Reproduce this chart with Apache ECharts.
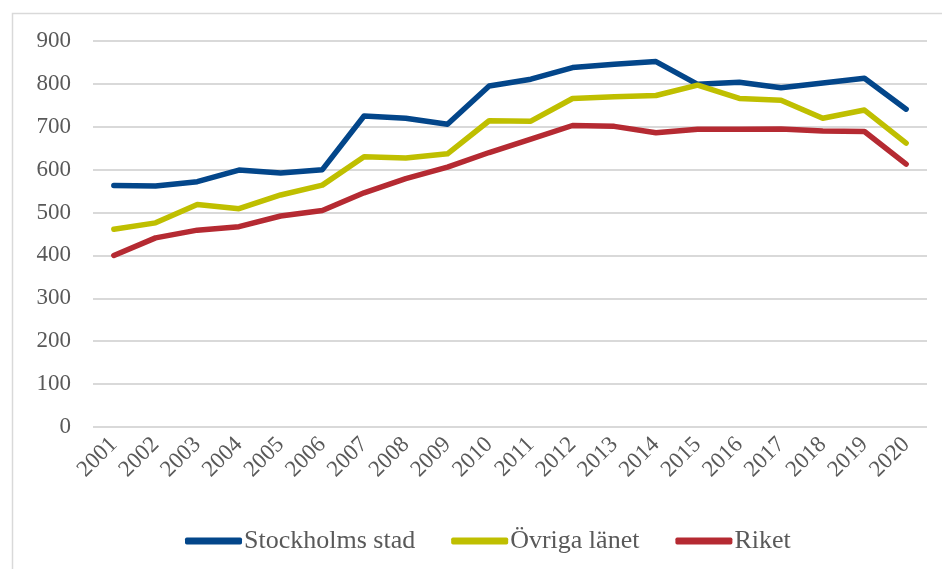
<!DOCTYPE html>
<html>
<head>
<meta charset="utf-8">
<script src="https://cdn.jsdelivr.net/npm/echarts@6/dist/echarts.min.js"></script>
<style>
  html, body { margin: 0; padding: 0; background: #fff; }
  #chart { width: 942px; height: 569px; }
</style>
</head>
<body>
<div id="chart"></div>
<script>
// Years on the category axis
var years = ['2001','2002','2003','2004','2005','2006','2007','2008','2009','2010',
             '2011','2012','2013','2014','2015','2016','2017','2018','2019','2020'];

// Series values per year
var stockholmsStad = [563, 562, 572, 599, 592, 600, 725, 720, 706, 795,
                      811, 838, 846, 852, 799, 804, 791, 802, 813, 741];
var ovrigaLanet    = [461, 476, 519, 509, 541, 564, 630, 627, 637, 714,
                      713, 766, 770, 773, 797, 766, 762, 720, 739, 662];
var riket          = [400, 441, 459, 467, 492, 505, 546, 579, 606, 640,
                      671, 703, 701, 686, 694, 694, 695, 690, 689, 613];

var seriesNames = ['Stockholms stad', '\u00d6vriga l\u00e4net', 'Riket'];
var seriesColors = ['#03468a', '#bfbf00', '#b52a32'];

var chart = echarts.init(document.getElementById('chart'), null, { renderer: 'canvas' });

function lineSeries(name, data, color) {
  return {
    name: name,
    type: 'line',
    data: data,
    symbol: 'none',
    smooth: false,
    lineStyle: { width: 5.5, color: color, cap: 'round', join: 'round' },
    itemStyle: { color: color }
  };
}

var labelFont = 'Liberation Serif';

chart.setOption({
  animation: false,
  backgroundColor: '#ffffff',
  textStyle: { fontFamily: labelFont },
  graphic: [{
    type: 'rect',
    left: 10, top: 11,
    shape: { width: 960, height: 600 },
    style: { fill: 'none', stroke: '#d9d9d9', lineWidth: 1.5 },
    silent: true
  }],
  grid: { left: 93, right: 15, top: 41, bottom: 142, containLabel: false },
  legend: {
    left: 180,
    top: 523,
    itemWidth: 57,
    itemHeight: 7,
    itemGap: 36,
    icon: 'roundRect',
    textStyle: { fontFamily: labelFont, fontSize: 26, color: '#595959', padding: [0, 0, 0, -3] },
    data: seriesNames
  },
  xAxis: {
    type: 'category',
    data: years,
    boundaryGap: true,
    axisLine: { show: false },
    axisTick: { show: false },
    axisLabel: {
      rotate: 45,
      margin: 14,
      fontFamily: labelFont,
      fontSize: 23,
      color: '#595959',
      interval: 0
    }
  },
  yAxis: {
    type: 'value',
    min: 0,
    max: 900,
    interval: 100,
    axisLine: { show: false },
    axisTick: { show: false },
    splitLine: { lineStyle: { color: '#d9d9d9', width: 2 } },
    axisLabel: {
      margin: 22,
      fontFamily: labelFont,
      fontSize: 23,
      color: '#595959'
    }
  },
  series: [
    lineSeries(seriesNames[0], stockholmsStad, seriesColors[0]),
    lineSeries(seriesNames[1], ovrigaLanet, seriesColors[1]),
    lineSeries(seriesNames[2], riket, seriesColors[2])
  ]
});
</script>
</body>
</html>
